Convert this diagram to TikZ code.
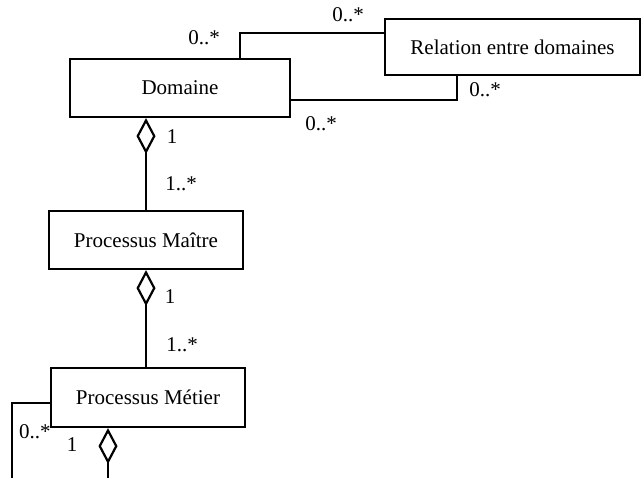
\documentclass[tikz,border=0pt]{standalone}
\usepackage{fontspec}
\setmainfont{Liberation Serif}
\usetikzlibrary{arrows.meta}
\begin{document}
\begin{tikzpicture}[x=1pt,y=-1pt,
  line width=2.2pt,
  cls/.style={draw, fill=white, inner sep=0pt, font=\fontsize{21}{25}\selectfont},
  mult/.style={inner sep=0pt, font=\fontsize{21}{25}\selectfont},
  aggr/.style={-{Diamond[open,length=36pt,width=19pt,line width=2.2pt]}}]
\useasboundingbox (0,0) rectangle (642,478);

% classes
\node[cls, minimum width=220pt, minimum height=58pt] (dom) at (180,88) {Domaine};
\node[cls, minimum width=255pt, minimum height=56pt] (rel) at (512.5,47) {Relation entre domaines};
\node[cls, minimum width=194pt, minimum height=58pt] (pma) at (146,240) {Processus Maître};
\node[cls, minimum width=194pt, minimum height=59pt] (pme) at (148,397.5) {Processus Métier};

% bend points and open ends
\coordinate (k1) at (240,33);
\coordinate (k2) at (457,100);
\coordinate (k3) at (12,403);
\coordinate (k4) at (12,490);
\coordinate (k5) at (108,490);

% associations between Domaine and Relation entre domaines
\draw (dom.north -| k1) |- (rel.west |- k1);
\draw (dom.east |- k2) -| (rel.south -| k2);

% aggregations
\draw[aggr] (pma.north) -- (pma.north |- dom.south);
\draw[aggr] (pme.north -| pma.north) -- (pma.south);
\draw[aggr] (k5) -- (pme.south -| k5);

% self association of Processus Métier
\draw (pme.west |- k3) -| (k4);

% multiplicities
\node[mult] (m1) at (204,38) {0..*};
\node[mult] (m2) at (348,15) {0..*};
\node[mult] (m3) at (485,90) {0..*};
\node[mult] (m4) at (321,124) {0..*};
\node[mult] (m5) at (172,137) {1};
\node[mult] (m6) at (181,184) {1..*};
\node[mult] (m7) at (170,297) {1};
\node[mult] (m8) at (182,345) {1..*};
\node[mult] (m9) at (35,432) {0..*};
\node[mult] (m10) at (72,445) {1};
\end{tikzpicture}
\end{document}
